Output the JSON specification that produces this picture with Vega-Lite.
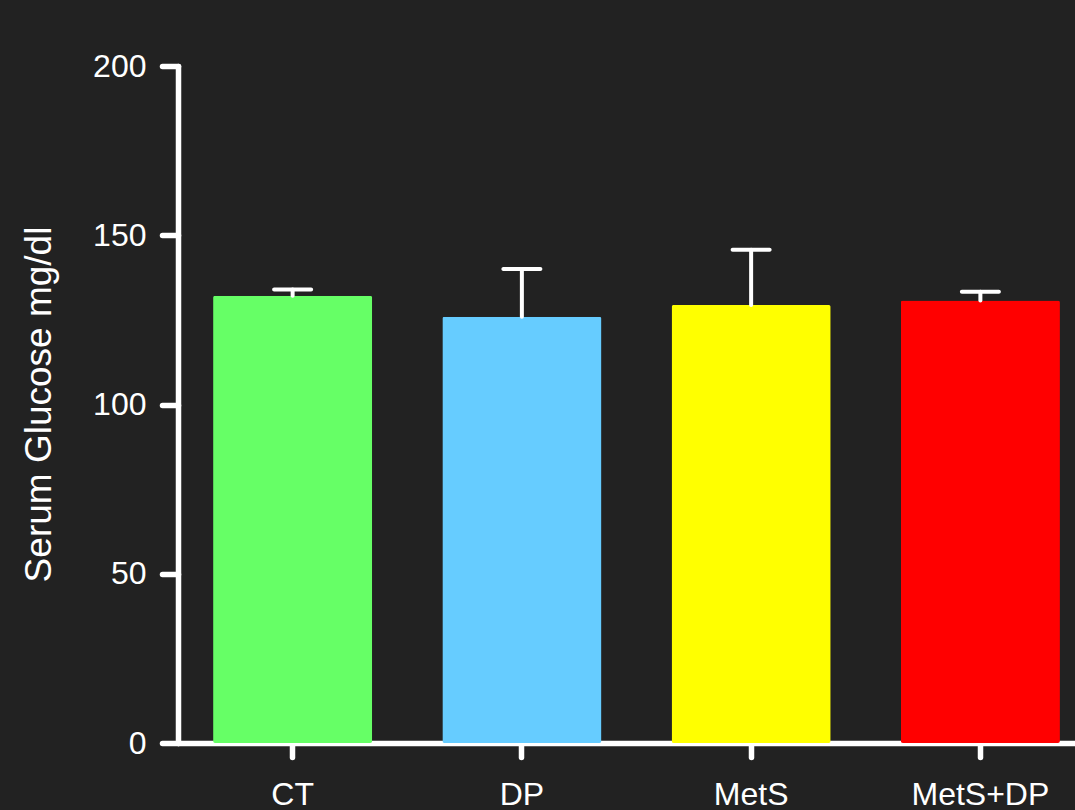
{
  "$schema": "https://vega.github.io/schema/vega-lite/v6.json",
  "width": 917,
  "height": 677,
  "autosize": {"type": "none"},
  "padding": {"left": 178, "top": 66, "right": 0, "bottom": 67},
  "background": "#222222",
  "config": {
    "view": {"stroke": null},
    "font": "Liberation Sans",
    "axis": {
      "domainColor": "#ffffff",
      "domainWidth": 5.5,
      "domainCap": "round",
      "tickColor": "#ffffff",
      "tickWidth": 5.5,
      "tickCap": "round",
      "labelColor": "#ffffff",
      "labelFont": "Liberation Sans",
      "labelFontSize": 32,
      "titleColor": "#ffffff",
      "titleFont": "Liberation Sans",
      "titleFontWeight": "normal",
      "grid": false,
      "zindex": 1
    }
  },
  "data": {
    "values": [
      {"group": "CT", "mean": 132.1, "upper": 134.0},
      {"group": "DP", "mean": 125.9, "upper": 140.0},
      {"group": "MetS", "mean": 129.4, "upper": 145.7},
      {"group": "MetS+DP", "mean": 130.7, "upper": 133.3}
    ]
  },
  "encoding": {
    "x": {
      "field": "group",
      "type": "nominal",
      "sort": ["CT", "DP", "MetS", "MetS+DP"],
      "scale": {"paddingInner": 0.306, "paddingOuter": 0.153},
      "axis": {
        "title": null,
        "labelAngle": 0,
        "tickSize": 14,
        "labelPadding": 22
      }
    }
  },
  "layer": [
    {
      "mark": {"type": "bar", "cornerRadius": 2},
      "encoding": {
        "y": {
          "field": "mean",
          "type": "quantitative",
          "scale": {"domain": [0, 200], "nice": false},
          "axis": {
            "title": "Serum Glucose mg/dl",
            "titleFontSize": 37,
            "titleAngle": -90,
            "titleX": -128,
            "titleY": 338,
            "titleAlign": "center",
            "titleBaseline": "alphabetic",
            "values": [0, 50, 100, 150, 200],
            "tickSize": 16,
            "labelPadding": 16
          }
        },
        "color": {
          "field": "group",
          "type": "nominal",
          "scale": {
            "domain": ["CT", "DP", "MetS", "MetS+DP"],
            "range": ["#66FF66", "#66CCFF", "#FFFF00", "#FF0000"]
          },
          "legend": null
        }
      }
    },
    {
      "mark": {"type": "rule", "color": "#ffffff", "strokeWidth": 4, "strokeCap": "round"},
      "encoding": {
        "y": {"field": "mean", "type": "quantitative"},
        "y2": {"field": "upper"}
      }
    },
    {
      "mark": {"type": "tick", "color": "#ffffff", "size": 41, "thickness": 4, "cornerRadius": 2, "opacity": 1},
      "encoding": {
        "y": {"field": "upper", "type": "quantitative"}
      }
    }
  ]
}
